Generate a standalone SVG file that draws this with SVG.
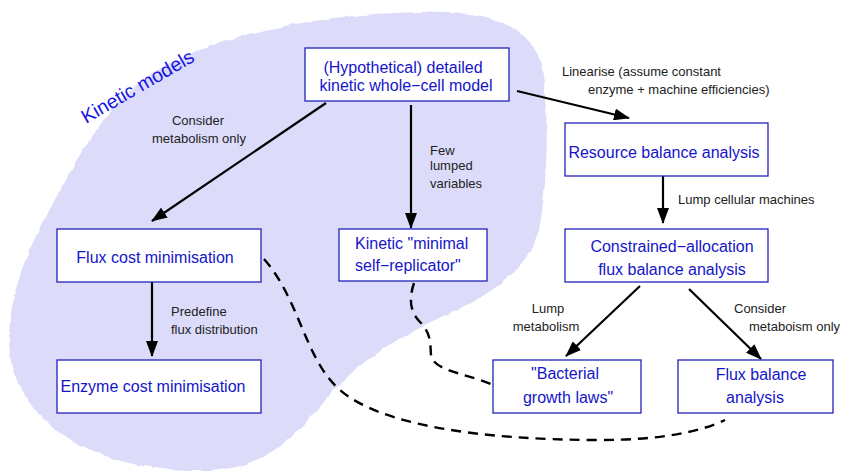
<svg xmlns="http://www.w3.org/2000/svg" width="843" height="473" viewBox="0 0 843 473">
<defs>
  <marker id="ah" markerUnits="userSpaceOnUse" markerWidth="16" markerHeight="12" refX="15" refY="6" orient="auto">
    <path d="M0,0 L16,6 L0,12 Z" fill="#000"/>
  </marker>
  <filter id="rough" x="-5%" y="-5%" width="110%" height="110%">
    <feTurbulence type="fractalNoise" baseFrequency="0.08" numOctaves="2" seed="3"/>
    <feDisplacementMap in="SourceGraphic" scale="4" xChannelSelector="R" yChannelSelector="G"/>
  </filter>
</defs>
<style>
  .box { fill: #fff; stroke: #2222bb; stroke-width: 1.3; }
  .nt { font-family: "Liberation Sans", Arial, sans-serif; font-size: 16px; fill: #1515c8; }
  .title { font-family: "Liberation Sans", Arial, sans-serif; font-size: 19.5px; fill: #1515e0; }
  .lb { font-family: "Liberation Sans", Arial, sans-serif; font-size: 13px; fill: #222; }
  .edge { fill: none; stroke: #000; stroke-width: 2.2; marker-end: url(#ah); }
  .dash { fill: none; stroke: #000; stroke-width: 2.4; stroke-dasharray: 10 7; }
</style>

<g id="kinetic-region">
  <path filter="url(#rough)" fill="#dcdcfa" d="M420,12 C480,10 525,20 540,60 C550,100 548,180 540,225 C530,270 490,295 450,313 C400,335 360,360 330,395 C300,430 270,471 200,471 C120,472 35,440 13,370 C0,320 22,260 42,225 C70,170 100,110 150,75 C220,30 330,14 420,12 Z"/>
  <text class="title" transform="translate(86,124) rotate(-30)">Kinetic models</text>
</g>

<g id="connectors">
  <path class="dash" d="M264,259 C300,300 305,360 340,390 C380,425 480,440 600,440 C660,440 700,432 725,420"/>
  <path class="dash" d="M414,283 C410,295 408,310 420,322 C432,334 430,345 431,355 C433,370 460,372 491,384"/>
  <line class="edge" x1="326" y1="103" x2="152" y2="221"/>
  <line class="edge" x1="411" y1="105" x2="411" y2="228"/>
  <line class="edge" x1="517" y1="91" x2="629" y2="118"/>
  <line class="edge" x1="663" y1="176" x2="663" y2="223"/>
  <line class="edge" x1="152" y1="282" x2="152" y2="356"/>
  <line class="edge" x1="640" y1="286" x2="566" y2="356"/>
  <line class="edge" x1="689" y1="289" x2="761" y2="359"/>
  <text class="lb" x="198" y="124.5" text-anchor="middle">Consider</text>
  <text class="lb" x="199" y="142.5" text-anchor="middle">metabolism only</text>
  <text class="lb" x="430" y="154.5">Few</text>
  <text class="lb" x="430" y="169.5">lumped</text>
  <text class="lb" x="430" y="187.5">variables</text>
  <text class="lb" x="562" y="75.5">Linearise (assume constant</text>
  <text class="lb" x="588" y="93.5">enzyme + machine efficiencies)</text>
  <text class="lb" x="678" y="203.5">Lump cellular machines</text>
  <text class="lb" x="171" y="315.5">Predefine</text>
  <text class="lb" x="171" y="333.5">flux distribution</text>
  <text class="lb" x="548" y="312.5" text-anchor="middle">Lump</text>
  <text class="lb" x="546" y="330.5" text-anchor="middle">metabolism</text>
  <text class="lb" x="734" y="312.5">Consider</text>
  <text class="lb" x="749" y="330.5">metaboism only</text>
</g>

<g id="whole-cell">
  <rect class="box" x="305" y="48" width="204" height="53"/>
  <text class="nt" x="403" y="73" text-anchor="middle">(Hypothetical) detailed</text>
  <text class="nt" x="406" y="91" text-anchor="middle">kinetic whole−cell model</text>
</g>
<g id="rba">
  <rect class="box" x="565" y="123" width="203" height="53"/>
  <text class="nt" x="664" y="158" text-anchor="middle">Resource balance analysis</text>
</g>
<g id="cafba">
  <rect class="box" x="565" y="229" width="203" height="53"/>
  <text class="nt" x="672" y="252" text-anchor="middle">Constrained−allocation</text>
  <text class="nt" x="672" y="275" text-anchor="middle">flux balance analysis</text>
</g>
<g id="flux-cost">
  <rect class="box" x="57" y="229" width="204" height="53"/>
  <text class="nt" x="155" y="263" text-anchor="middle">Flux cost minimisation</text>
</g>
<g id="enzyme-cost">
  <rect class="box" x="57" y="360" width="204" height="53"/>
  <text class="nt" x="153" y="392" text-anchor="middle">Enzyme cost minimisation</text>
</g>
<g id="minimal-replicator">
  <rect class="box" x="339" y="229" width="148" height="52"/>
  <text class="nt" x="355" y="249">Kinetic "minimal</text>
  <text class="nt" x="355" y="271">self−replicator"</text>
</g>
<g id="growth-laws">
  <rect class="box" x="493" y="360" width="148" height="53"/>
  <text class="nt" x="565" y="379" text-anchor="middle">"Bacterial</text>
  <text class="nt" x="568" y="403" text-anchor="middle">growth laws"</text>
</g>
<g id="fba">
  <rect class="box" x="678" y="360" width="155" height="53"/>
  <text class="nt" x="761" y="380" text-anchor="middle">Flux balance</text>
  <text class="nt" x="755" y="403" text-anchor="middle">analysis</text>
</g>
</svg>
